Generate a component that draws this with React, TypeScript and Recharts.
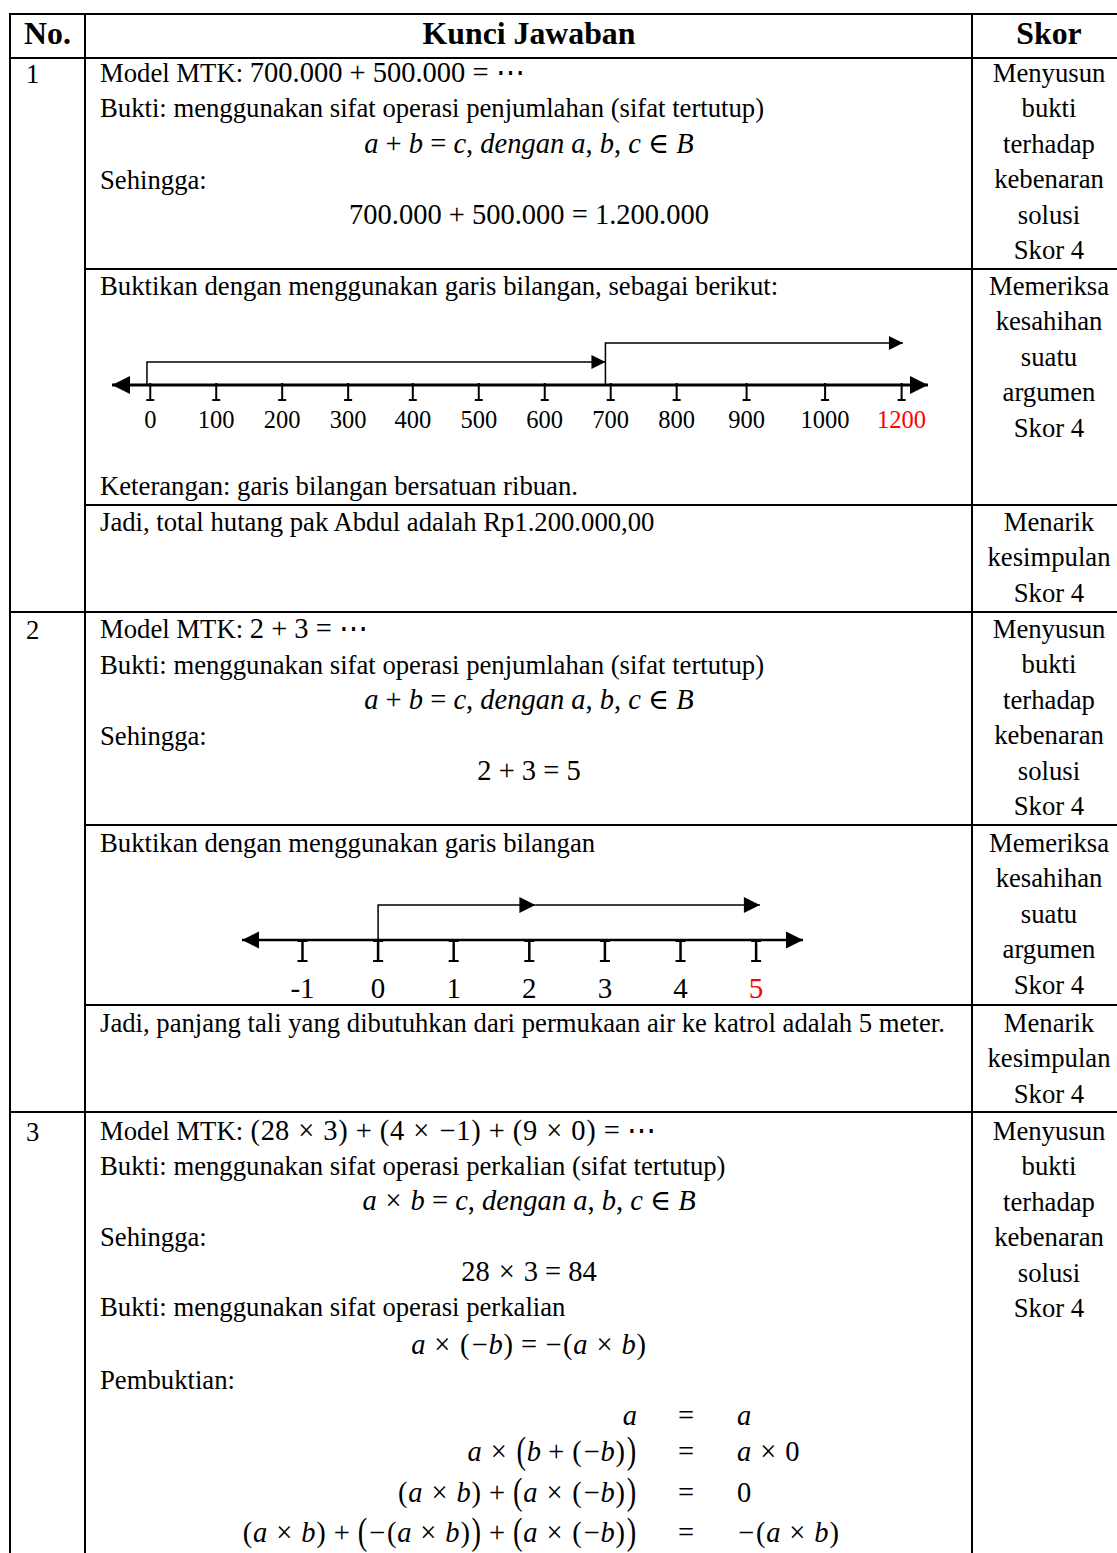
import React from 'react';
import { LineChart, Line, XAxis, YAxis } from 'recharts';

const SERIF = '"Liberation Serif", "Times New Roman", Times, serif';
const MATHF = '"Liberation Serif", "DejaVu Serif", serif';

// ---------- table text ----------
const headers = ['No.', 'Kunci Jawaban', 'Skor'];
const itemNumbers = ['1', '2', '3'];
const skorProof = ['Menyusun', 'bukti', 'terhadap', 'kebenaran', 'solusi', 'Skor 4'];
const skorArgument = ['Memeriksa', 'kesahihan', 'suatu', 'argumen', 'Skor 4'];
const skorConclusion = ['Menarik', 'kesimpulan', 'Skor 4'];

const modelLabel = 'Model MTK: ';
const q1Model = '700.000 + 500.000 = ⋯';
const proofAdd = 'Bukti: menggunakan sifat operasi penjumlahan (sifat tertutup)';
const closureAdd = 'a + b = c, dengan a, b, c ∈ B';
const thereforeLabel = 'Sehingga:';
const q1Result = '700.000 + 500.000 = 1.200.000';
const q1LineIntro = 'Buktikan dengan menggunakan garis bilangan, sebagai berikut:';
const q1Note = 'Keterangan: garis bilangan bersatuan ribuan.';
const q1Conclusion = 'Jadi, total hutang pak Abdul adalah Rp1.200.000,00';
const q2Model = '2 + 3 = ⋯';
const q2Result = '2 + 3 = 5';
const q2LineIntro = 'Buktikan dengan menggunakan garis bilangan';
const q2Conclusion = 'Jadi, panjang tali yang dibutuhkan dari permukaan air ke katrol adalah 5 meter.';
const q3Model = '(28 × 3) + (4 × −1) + (9 × 0) = ⋯';
const proofMul = 'Bukti: menggunakan sifat operasi perkalian (sifat tertutup)';
const closureMul = 'a × b = c, dengan a, b, c ∈ B';
const q3Result = '28 × 3 = 84';
const proofMulNeg = 'Bukti: menggunakan sifat operasi perkalian';
const negRule = 'a × (−b) = −(a × b)';
const proofLabel = 'Pembuktian:';
const eqLeft = ['a', 'a × [b + (−b)]', '(a × b) + [a × (−b)]', '(a × b) + [−(a × b)] + [a × (−b)]'];
const eqRight = ['a', 'a × 0', '0', '−(a × b)'];

// ---------- number line 1 (thousands) ----------
// tick positions as drawn in the picture (hundreds along the line)
const nl1Positions = [0, 1, 2, 3, 3.98, 4.98, 5.98, 6.98, 7.98, 9.04, 10.23, 11.39];
const nl1Labels = ['0', '100', '200', '300', '400', '500', '600', '700', '800', '900', '1000', '1200'];
const nl1Answer = '1200';
const nl1Axis = [{ x: -0.58, y: 0 }, { x: 11.79, y: 0 }];
const nl1HopA = [{ x: -0.05, y: 0 }, { x: -0.05, y: 23 }, { x: 6.9, y: 23 }];
const nl1HopB = [{ x: 6.9, y: 0 }, { x: 6.9, y: 42 }, { x: 11.41, y: 42 }];

// ---------- number line 2 ----------
const nl2Ticks = [-1, 0, 1, 2, 3, 4, 5];
const nl2Answer = 5;
const nl2Axis = [{ x: -1.8, y: 0 }, { x: 5.62, y: 0 }];
const nl2HopA = [{ x: 0, y: 0 }, { x: 0, y: 35 }, { x: 2.08, y: 35 }];
const nl2HopB = [{ x: 2.08, y: 35 }, { x: 5.05, y: 35 }];

const FS = 26.7;
const MFS = 28.5;
const LH = 36;

function MathText({ t, size = MFS }: { t: string; size?: number }) {
  const out: any[] = [];
  const re = /([A-Za-z]+|\[|\]|[()×−]|[^A-Za-z\[\]()×−]+)/g;
  let m: any;
  let k = 0;
  while ((m = re.exec(t)) !== null) {
    const p = m[0];
    if (p === '[' || p === ']') {
      out.push(
        <span
          key={k++}
          style={{
            display: 'inline-block',
            lineHeight: 1,
            transform: 'scale(1,1.35)',
            transformOrigin: '50% 62%',
            margin: '0 0.8px',
          }}
        >
          {p === '[' ? '(' : ')'}
        </span>
      );
    } else if (p === '(' || p === ')') {
      out.push(<span key={k++} style={{ margin: '0 0.8px' }}>{p}</span>);
    } else if (p === '×') {
      out.push(<span key={k++} style={{ margin: '0 1.8px' }}>{p}</span>);
    } else if (p === '−') {
      out.push(<span key={k++} style={{ margin: '0 1px' }}>{p}</span>);
    } else if (/^[A-Za-z]+$/.test(p)) {
      out.push(<i key={k++}>{p}</i>);
    } else {
      out.push(<span key={k++}>{p}</span>);
    }
  }
  return <span style={{ fontFamily: MATHF, fontSize: size }}>{out}</span>;
}

function T({ x, y, a = 'left', s, children }: any) {
  const style: any = {
    position: 'absolute',
    top: y - LH / 2,
    height: LH,
    lineHeight: LH + 'px',
    whiteSpace: 'nowrap',
    fontSize: FS,
    ...s,
  };
  if (a === 'left') style.left = x;
  else if (a === 'center') {
    style.left = x - 450;
    style.width = 900;
    style.textAlign = 'center';
  } else {
    style.left = x - 900;
    style.width = 900;
    style.textAlign = 'right';
  }
  return <div style={style}>{children}</div>;
}

const HL = ({ y, x1, x2 }: any) => (
  <div style={{ position: 'absolute', left: x1, top: y - 1, width: x2 - x1, height: 2, background: '#000' }} />
);
const VL = ({ x, y1, y2 }: any) => (
  <div style={{ position: 'absolute', left: x - 1, top: y1, width: 2, height: y2 - y1, background: '#000' }} />
);

const arrowDot = (n: number, L: number, Hh: number, both = false) => (p: any) => {
  const { cx, cy, index } = p;
  if (index === n - 1)
    return <polygon key={'a' + index} points={`${cx},${cy} ${cx - L},${cy - Hh / 2} ${cx - L},${cy + Hh / 2}`} fill="#000" />;
  if (both && index === 0)
    return <polygon key={'a' + index} points={`${cx},${cy} ${cx + L},${cy - Hh / 2} ${cx + L},${cy + Hh / 2}`} fill="#000" />;
  return <g key={'a' + index} />;
};

const Nl1Tick = (p: any) => {
  const { x, y, payload } = p;
  const idx = nl1Positions.indexOf(payload.value);
  const label = nl1Labels[idx];
  return (
    <g>
      <line x1={x} y1={y - 2} x2={x} y2={y + 15} stroke="#000" strokeWidth={2} />
      <line x1={x - 4} y1={y + 15} x2={x + 4} y2={y + 15} stroke="#000" strokeWidth={2} />
      <line x1={x - 4} y1={y} x2={x + 4} y2={y} stroke="#000" strokeWidth={2} />
      <text x={x} y={y + 43} textAnchor="middle" fontFamily={SERIF} fontSize={24.5} fill={label === nl1Answer ? '#ff0000' : '#000'}>
        {label}
      </text>
    </g>
  );
};

const Nl2Tick = (p: any) => {
  const { x, y, payload } = p;
  const v = payload.value;
  return (
    <g>
      <line x1={x} y1={y} x2={x} y2={y + 21} stroke="#000" strokeWidth={2.5} />
      <line x1={x - 5} y1={y + 21} x2={x + 5} y2={y + 21} stroke="#000" strokeWidth={2} />
      <line x1={x - 5} y1={y + 1} x2={x + 5} y2={y + 1} stroke="#000" strokeWidth={2} />
      <text x={x} y={y + 58} textAnchor="middle" fontFamily={SERIF} fontSize={29} fill={v === nl2Answer ? '#ff0000' : '#000'}>
        {String(v)}
      </text>
    </g>
  );
};

function NumberLine1() {
  return (
    <div style={{ position: 'absolute', left: 100, top: 300 }}>
      <LineChart width={850} height={150} margin={{ top: 35, right: 22, bottom: 0, left: 12 }}>
        <XAxis
          type="number"
          dataKey="x"
          domain={[-0.58, 11.79]}
          ticks={nl1Positions}
          interval={0}
          axisLine={false}
          tickLine={false}
          tickSize={0}
          tickMargin={0}
          height={65}
          tick={<Nl1Tick />}
        />
        <YAxis type="number" domain={[0, 50]} hide />
        <Line data={nl1Axis} dataKey="y" type="linear" stroke="#000" strokeWidth={3} dot={arrowDot(2, 18, 18, true)} activeDot={false} isAnimationActive={false} />
        <Line data={nl1HopA} dataKey="y" type="linear" stroke="#000" strokeWidth={1.5} dot={arrowDot(3, 14, 14)} activeDot={false} isAnimationActive={false} />
        <Line data={nl1HopB} dataKey="y" type="linear" stroke="#000" strokeWidth={1.5} dot={arrowDot(3, 14, 14)} activeDot={false} isAnimationActive={false} />
      </LineChart>
    </div>
  );
}

function NumberLine2() {
  return (
    <div style={{ position: 'absolute', left: 230, top: 880 }}>
      <LineChart width={600} height={124} margin={{ top: 20, right: 27, bottom: 0, left: 12 }}>
        <XAxis
          type="number"
          dataKey="x"
          domain={[-1.8, 5.62]}
          ticks={nl2Ticks}
          interval={0}
          axisLine={false}
          tickLine={false}
          tickSize={0}
          tickMargin={0}
          height={64}
          tick={<Nl2Tick />}
        />
        <YAxis type="number" domain={[0, 40]} hide />
        <Line data={nl2Axis} dataKey="y" type="linear" stroke="#000" strokeWidth={2.5} dot={arrowDot(2, 17, 17, true)} activeDot={false} isAnimationActive={false} />
        <Line data={nl2HopA} dataKey="y" type="linear" stroke="#000" strokeWidth={1.5} dot={arrowDot(3, 16, 16)} activeDot={false} isAnimationActive={false} />
        <Line data={nl2HopB} dataKey="y" type="linear" stroke="#000" strokeWidth={1.5} dot={arrowDot(2, 16, 16)} activeDot={false} isAnimationActive={false} />
      </LineChart>
    </div>
  );
}

function SkorBlock({ lines, y0 }: { lines: string[]; y0: number }) {
  return (
    <>
      {lines.map((l, i) => (
        <T key={i} x={1049} y={y0 + i * 35.4} a="center">
          {l}
        </T>
      ))}
    </>
  );
}

export default function App() {
  const KX = 100;
  const CX = 529;
  const eqY = [1416, 1452, 1493, 1533];
  return (
    <div
      style={{
        position: 'absolute',
        left: 0,
        top: 0,
        width: 1117,
        height: 1553,
        overflow: 'hidden',
        background: '#fff',
        fontFamily: SERIF,
        color: '#000',
      }}
    >
      {/* grid lines */}
      <VL x={9.5} y1={12.5} y2={1553} />
      <VL x={85} y1={12.5} y2={1553} />
      <VL x={972} y1={12.5} y2={1553} />
      <HL y={13.5} x1={8.5} x2={1117} />
      <HL y={58} x1={8.5} x2={1117} />
      <HL y={269} x1={84} x2={1117} />
      <HL y={505} x1={84} x2={1117} />
      <HL y={612} x1={8.5} x2={1117} />
      <HL y={825} x1={84} x2={1117} />
      <HL y={1005} x1={84} x2={1117} />
      <HL y={1112} x1={8.5} x2={1117} />

      {/* header */}
      <T x={47.5} y={34} a="center" s={{ fontWeight: 'bold', fontSize: 31.8 }}>{headers[0]}</T>
      <T x={CX} y={34} a="center" s={{ fontWeight: 'bold', fontSize: 31.8 }}>{headers[1]}</T>
      <T x={1049} y={34} a="center" s={{ fontWeight: 'bold', fontSize: 31.8 }}>{headers[2]}</T>

      {/* item numbers */}
      <T x={26} y={74}>{itemNumbers[0]}</T>
      <T x={26} y={630}>{itemNumbers[1]}</T>
      <T x={26} y={1132}>{itemNumbers[2]}</T>

      {/* item 1 */}
      <T x={KX} y={73}>{modelLabel}<MathText t={q1Model} /></T>
      <T x={KX} y={108}>{proofAdd}</T>
      <T x={CX} y={144} a="center"><MathText t={closureAdd} /></T>
      <T x={KX} y={180}>{thereforeLabel}</T>
      <T x={CX} y={215} a="center"><MathText t={q1Result} /></T>
      <T x={KX} y={286}>{q1LineIntro}</T>
      <NumberLine1 />
      <T x={KX} y={486}>{q1Note}</T>
      <T x={KX} y={522}>{q1Conclusion}</T>
      <SkorBlock lines={skorProof} y0={73} />
      <SkorBlock lines={skorArgument} y0={286} />
      <SkorBlock lines={skorConclusion} y0={522} />

      {/* item 2 */}
      <T x={KX} y={629}>{modelLabel}<MathText t={q2Model} /></T>
      <T x={KX} y={665}>{proofAdd}</T>
      <T x={CX} y={700} a="center"><MathText t={closureAdd} /></T>
      <T x={KX} y={736}>{thereforeLabel}</T>
      <T x={CX} y={771} a="center"><MathText t={q2Result} /></T>
      <T x={KX} y={843}>{q2LineIntro}</T>
      <NumberLine2 />
      <T x={KX} y={1023}>{q2Conclusion}</T>
      <SkorBlock lines={skorProof} y0={629} />
      <SkorBlock lines={skorArgument} y0={843} />
      <SkorBlock lines={skorConclusion} y0={1023} />

      {/* item 3 */}
      <T x={KX} y={1131}>{modelLabel}<MathText t={q3Model} /></T>
      <T x={KX} y={1166}>{proofMul}</T>
      <T x={CX} y={1201} a="center"><MathText t={closureMul} /></T>
      <T x={KX} y={1237}>{thereforeLabel}</T>
      <T x={CX} y={1272} a="center"><MathText t={q3Result} /></T>
      <T x={KX} y={1307}>{proofMulNeg}</T>
      <T x={CX} y={1345} a="center"><MathText t={negRule} /></T>
      <T x={KX} y={1380}>{proofLabel}</T>
      {eqLeft.map((l, i) => (
        <React.Fragment key={i}>
          <T x={637} y={eqY[i]} a="right"><MathText t={l} /></T>
          <T x={686} y={eqY[i]} a="center"><MathText t="=" /></T>
          <T x={737} y={eqY[i]}><MathText t={eqRight[i]} /></T>
        </React.Fragment>
      ))}
      <SkorBlock lines={skorProof} y0={1131} />
    </div>
  );
}
